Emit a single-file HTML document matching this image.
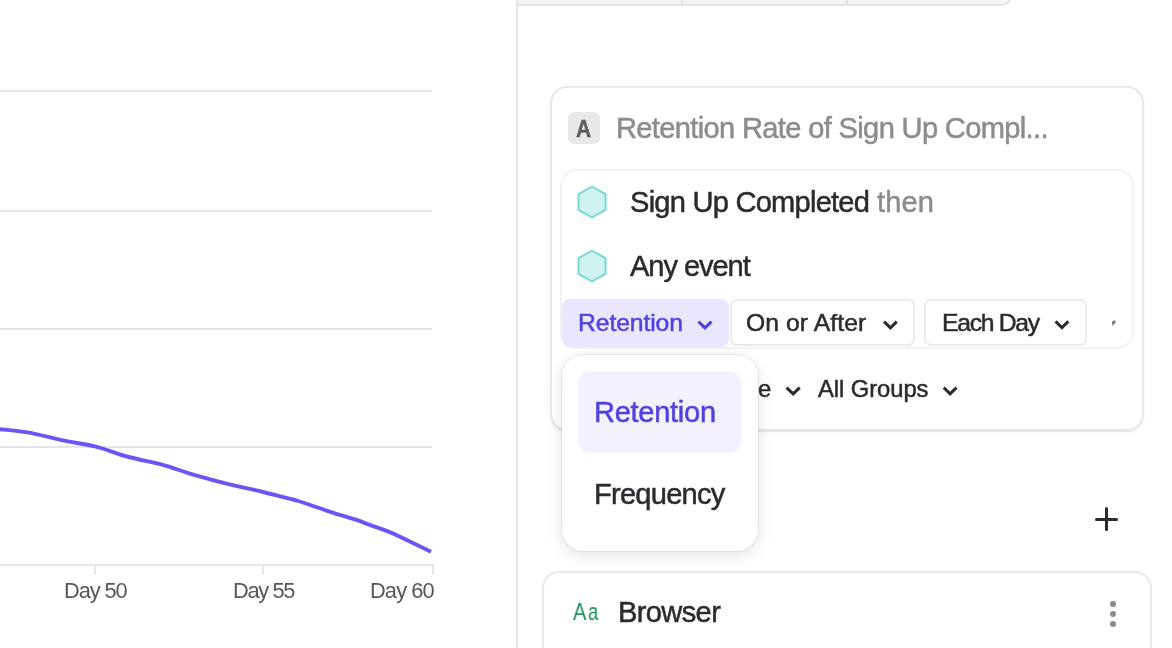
<!DOCTYPE html>
<html><head><meta charset="utf-8">
<style>
html,body{margin:0;padding:0;}
body{width:1172px;height:648px;overflow:hidden;background:#fff;position:relative;font-family:"Liberation Sans",sans-serif;color:#2a2b2f;}
.a{position:absolute;}
.t{position:absolute;white-space:nowrap;line-height:1;will-change:transform;}
.grid{position:absolute;left:0;width:432px;height:2px;background:#e5e5e5;}
.tick{position:absolute;width:2px;top:564px;height:11px;background:#e5e5e5;}
.btn{position:absolute;top:299px;height:47px;box-sizing:border-box;border:2px solid #ebebeb;border-radius:7px;background:#fff;}
</style></head>
<body>
<div class="grid" style="top:90px"></div>
<div class="grid" style="top:210px"></div>
<div class="grid" style="top:328px"></div>
<div class="grid" style="top:446px"></div>
<div class="grid" style="top:564px;width:434px"></div>
<div class="tick" style="left:94px"></div>
<div class="tick" style="left:262px"></div>
<div class="tick" style="left:432px"></div>
<div class="t" style="left:64.31px;top:579.54px;font-size:21.80px;letter-spacing:-1.068px;color:#56575c;font-weight:normal;">Day 50</div>
<div class="t" style="left:233.11px;top:579.54px;font-size:21.80px;letter-spacing:-1.335px;color:#56575c;font-weight:normal;">Day 55</div>
<div class="t" style="left:369.51px;top:579.54px;font-size:21.80px;letter-spacing:-0.868px;color:#56575c;font-weight:normal;">Day 60</div>
<svg class="a" style="left:0;top:0" width="440" height="648" viewBox="0 0 440 648">
<path d="M-5.8,428.6 C5,429.8 17,430.8 27.8,432.4 C40,434.5 50,437.8 61.4,440.1 C73,442.6 84,443.8 95,446.4 C107,449.4 117,454 128.6,457 C140,460 151,461.8 162.2,464.6 C174,467.8 184,472.3 195.8,475.3 C207,478.5 218,481.5 229.4,484.4 C241,487.3 252,489.3 263,492 C274,494.8 285,497.3 296.6,500.5 C308,504 319,508.2 330.2,511.8 C341,515.5 353,518.5 363.8,522.6 C375,527 386,530 397.4,535.4 C409,541 420,546.5 431,551.8" fill="none" stroke="#7152f7" stroke-width="3.9" stroke-linejoin="round" stroke-linecap="butt"/>
</svg>

<div class="a" style="left:516px;top:0;width:2px;height:648px;background:#e6e6e6"></div>

<div class="a" style="left:518px;top:-10px;width:491px;height:14px;background:#f4f4f4;border-bottom:2px solid #e5e5e5;border-right:2px solid #e5e5e5;border-bottom-right-radius:9px;"></div>
<div class="a" style="left:681px;top:0;width:2px;height:4px;background:#e5e5e5"></div>
<div class="a" style="left:846px;top:0;width:2px;height:4px;background:#e5e5e5"></div>

<div class="a" style="left:550px;top:86px;width:594px;height:345px;box-sizing:border-box;border:2px solid #e8e8e8;border-radius:17px;box-shadow:0 1px 1px rgba(0,0,0,0.07),0 2px 4px rgba(0,0,0,0.03)"></div>
<div class="a" style="left:568px;top:112px;width:32px;height:32px;border-radius:6px;background:#e8e8e8"></div>
<div class="t" style="left:576.48px;top:117.05px;font-size:24.27px;transform:scaleX(0.8597);transform-origin:0 0;color:#5a5b60;font-weight:bold;-webkit-text-stroke:0.4px #5a5b60;">A</div>
<div class="t" style="left:615.82px;top:114.39px;font-size:29.07px;letter-spacing:-0.649px;color:#8b8c90;font-weight:normal;-webkit-text-stroke:0.5px #8b8c90;">Retention Rate of Sign Up Compl...</div>

<div class="a" style="left:560px;top:169px;width:574px;height:180px;box-sizing:border-box;border:2px solid #f2f2f2;border-radius:17px;"></div>
<svg class="a" style="left:576px;top:185px" width="32" height="34" viewBox="0 0 32 34"><path d="M16,1.5 L29.5,9.2 L29.5,24.8 L16,32.5 L2.5,24.8 L2.5,9.2 Z" fill="#d0f2f0" stroke="#72dcd3" stroke-width="2" stroke-linejoin="round"/></svg>
<svg class="a" style="left:576px;top:249px" width="32" height="34" viewBox="0 0 32 34"><path d="M16,1.5 L29.5,9.2 L29.5,24.8 L16,32.5 L2.5,24.8 L2.5,9.2 Z" fill="#d0f2f0" stroke="#72dcd3" stroke-width="2" stroke-linejoin="round"/></svg>
<div class="t" style="left:629.68px;top:188.39px;font-size:29.07px;letter-spacing:-0.755px;color:#2a2b2f;font-weight:normal;-webkit-text-stroke:0.5px #2a2b2f;">Sign Up Completed</div>
<div class="t" style="left:876.96px;top:188.39px;font-size:29.07px;letter-spacing:0.150px;color:#8b8c90;font-weight:normal;-webkit-text-stroke:0.5px #8b8c90;">then</div>
<div class="t" style="left:630.14px;top:252.39px;font-size:29.07px;letter-spacing:-1.064px;color:#2a2b2f;font-weight:normal;-webkit-text-stroke:0.5px #2a2b2f;">Any event</div>

<div class="a" style="left:562px;top:299px;width:167px;height:48px;border-radius:8px;background:#e9e6fd"></div>
<div class="t" style="left:577.87px;top:311.08px;font-size:24.71px;letter-spacing:-0.093px;color:#5141e0;font-weight:normal;-webkit-text-stroke:0.5px #5141e0;">Retention</div>
<svg class="a" style="left:0;top:0;overflow:visible" width="1" height="1"><path d="M698.46,321.66 L705.00,327.88 L711.54,321.66" fill="none" stroke="#5141e0" stroke-width="3.0" stroke-linecap="butt" stroke-linejoin="miter"/></svg>
<div class="btn" style="left:730px;width:185px"></div>
<div class="t" style="left:746.43px;top:311.08px;font-size:24.71px;letter-spacing:0.073px;color:#2a2b2f;font-weight:normal;-webkit-text-stroke:0.5px #2a2b2f;">On or After</div>
<svg class="a" style="left:0;top:0;overflow:visible" width="1" height="1"><path d="M884.06,321.66 L890.40,327.88 L896.74,321.66" fill="none" stroke="#2a2b2f" stroke-width="3.0" stroke-linecap="butt" stroke-linejoin="miter"/></svg>
<div class="btn" style="left:924px;width:163px"></div>
<div class="t" style="left:941.97px;top:311.08px;font-size:24.71px;letter-spacing:-1.279px;color:#2a2b2f;font-weight:normal;-webkit-text-stroke:0.5px #2a2b2f;">Each Day</div>
<svg class="a" style="left:0;top:0;overflow:visible" width="1" height="1"><path d="M1055.56,321.36 L1061.95,327.58 L1068.34,321.36" fill="none" stroke="#2a2b2f" stroke-width="3.0" stroke-linecap="butt" stroke-linejoin="miter"/></svg>
<svg class="a" style="left:0;top:0;overflow:visible" width="1" height="1"><path d="M1111.9,321.8 L1114.4,320 L1115.8,322.4 L1112.3,325.8 Z" fill="#7a7a7a"/></svg>

<div class="t" style="left:715.04px;top:376.82px;font-size:23.84px;letter-spacing:1.987px;color:#2a2b2f;font-weight:normal;-webkit-text-stroke:0.5px #2a2b2f;">Rate</div>
<svg class="a" style="left:0;top:0;overflow:visible" width="1" height="1"><path d="M786.56,387.66 L793.15,393.88 L799.74,387.66" fill="none" stroke="#2a2b2f" stroke-width="3.0" stroke-linecap="butt" stroke-linejoin="miter"/></svg>
<div class="t" style="left:817.75px;top:376.82px;font-size:23.84px;letter-spacing:-0.086px;color:#2a2b2f;font-weight:normal;-webkit-text-stroke:0.5px #2a2b2f;">All Groups</div>
<svg class="a" style="left:0;top:0;overflow:visible" width="1" height="1"><path d="M943.76,387.66 L950.10,393.88 L956.44,387.66" fill="none" stroke="#2a2b2f" stroke-width="3.0" stroke-linecap="butt" stroke-linejoin="miter"/></svg>

<div class="a" style="left:562px;top:355px;width:196px;height:196px;box-sizing:border-box;border-radius:21px;background:#fff;box-shadow:0 0 0 1px rgba(0,0,0,0.06),0 4px 16px rgba(0,0,0,0.12)"></div>
<div class="a" style="left:578px;top:371px;width:163px;height:82px;border-radius:12px;background:#f3f1fe"></div>
<div class="t" style="left:593.52px;top:398.39px;font-size:29.07px;letter-spacing:-0.296px;color:#5141e0;font-weight:normal;-webkit-text-stroke:0.5px #5141e0;">Retention</div>
<div class="t" style="left:593.62px;top:480.39px;font-size:29.07px;letter-spacing:-0.751px;color:#2a2b2f;font-weight:normal;-webkit-text-stroke:0.5px #2a2b2f;">Frequency</div>

<div class="a" style="left:1095px;top:517.5px;width:23px;height:3px;background:#2a2b2f;border-radius:1.5px"></div>
<div class="a" style="left:1104.8px;top:507px;width:3px;height:24px;background:#2a2b2f;border-radius:1.5px"></div>

<div class="a" style="left:542px;top:571px;width:610px;height:120px;box-sizing:border-box;border:2px solid #e8e8e8;border-radius:17px"></div>
<div class="t" style="left:573.46px;top:599.82px;font-size:23.84px;transform:scaleX(0.8414);transform-origin:0 0;color:#23955f;font-weight:normal;-webkit-text-stroke:0.1px #23955f;">A</div><div class="t" style="left:588.41px;top:599.82px;font-size:23.84px;transform:scaleX(0.7758);transform-origin:0 0;color:#23955f;font-weight:normal;-webkit-text-stroke:0.1px #23955f;">a</div>
<div class="t" style="left:617.82px;top:598.39px;font-size:29.07px;letter-spacing:-0.625px;color:#2a2b2f;font-weight:normal;-webkit-text-stroke:0.5px #2a2b2f;">Browser</div>
<div class="a" style="left:1110px;top:601px;width:6px;height:6px;border-radius:50%;background:#8a8a8a"></div>
<div class="a" style="left:1110px;top:611px;width:6px;height:6px;border-radius:50%;background:#8a8a8a"></div>
<div class="a" style="left:1110px;top:621px;width:6px;height:6px;border-radius:50%;background:#8a8a8a"></div>
</body></html>
